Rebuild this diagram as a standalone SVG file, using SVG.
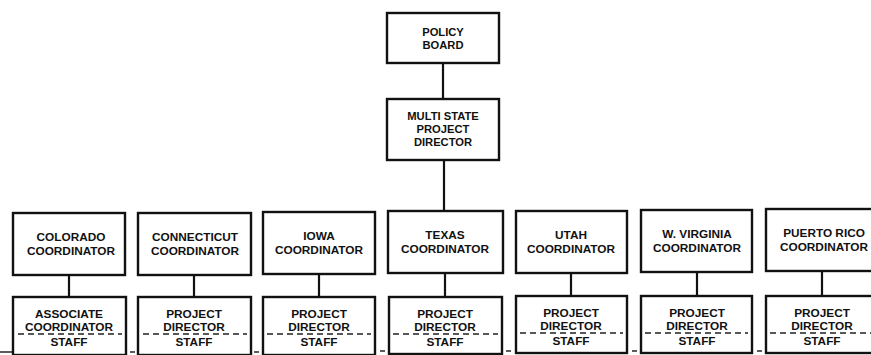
<svg xmlns="http://www.w3.org/2000/svg" width="871" height="355" viewBox="0 0 871 355">
  <style>
    .box { fill: #fff; stroke: #111; stroke-width: 2.4; }
    .link { stroke: #111; stroke-width: 2.2; fill: none; }
    .dash { stroke: #222; stroke-width: 1.6; stroke-dasharray: 6 4; fill: none; }
    .tick { stroke: #333; stroke-width: 1.6; }
    text { font-family: "Liberation Sans", Arial, sans-serif; font-weight: bold; font-size: 11.8px; fill: #111; text-anchor: middle; }
    .top text { font-size: 11.2px; }
  </style>
  <rect width="871" height="355" fill="#fff"/>

  <!-- connectors -->
  <g id="connectors">
    <line class="link" x1="443" y1="63" x2="443" y2="99"/>
    <line class="link" x1="444" y1="160" x2="444" y2="211"/>
    <line class="link" x1="69" y1="275" x2="69" y2="297"/>
    <line class="link" x1="194" y1="275" x2="194" y2="297"/>
    <line class="link" x1="319" y1="274" x2="319" y2="297"/>
    <line class="link" x1="445" y1="273" x2="445" y2="297"/>
    <line class="link" x1="571" y1="273" x2="571" y2="296"/>
    <line class="link" x1="697" y1="272" x2="697" y2="296"/>
    <line class="link" x1="822" y1="271" x2="822" y2="296"/>
    <!-- short strokes at the foot between staff boxes -->
    <line class="tick" x1="0" y1="352" x2="12" y2="352"/>
    <line class="tick" x1="18" y1="352" x2="110" y2="352" stroke="#777"/>
    <line class="tick" x1="130" y1="352" x2="135" y2="352"/>
    <line class="tick" x1="254" y1="352" x2="259" y2="352"/>
    <line class="tick" x1="380" y1="351" x2="385" y2="351"/>
    <line class="tick" x1="506" y1="351" x2="511" y2="351"/>
    <line class="tick" x1="632" y1="351" x2="637" y2="351"/>
    <line class="tick" x1="757" y1="351" x2="762" y2="351"/>
  </g>

  <g id="policy-board" class="top">
    <rect class="box" x="387" y="13" width="112" height="50"/>
    <text x="443" y="36">POLICY</text>
    <text x="443" y="49">BOARD</text>
  </g>

  <g id="multi-state-director" class="top">
    <rect class="box" x="387" y="99" width="112" height="61"/>
    <text x="443" y="120">MULTI STATE</text>
    <text x="443" y="133">PROJECT</text>
    <text x="443" y="146">DIRECTOR</text>
  </g>

  <g id="colorado-coordinator">
    <rect class="box" x="13" y="213" width="112" height="62"/>
    <text x="71" y="241">COLORADO</text>
    <text x="71" y="255">COORDINATOR</text>
  </g>
  <g id="connecticut-coordinator">
    <rect class="box" x="138" y="213" width="113" height="62"/>
    <text x="195" y="241">CONNECTICUT</text>
    <text x="195" y="255">COORDINATOR</text>
  </g>
  <g id="iowa-coordinator">
    <rect class="box" x="263" y="212" width="112" height="62"/>
    <text x="319" y="240">IOWA</text>
    <text x="319" y="254">COORDINATOR</text>
  </g>
  <g id="texas-coordinator">
    <rect class="box" x="388" y="211" width="115" height="62"/>
    <text x="445" y="239">TEXAS</text>
    <text x="445" y="253">COORDINATOR</text>
  </g>
  <g id="utah-coordinator">
    <rect class="box" x="516" y="211" width="111" height="62"/>
    <text x="571" y="239">UTAH</text>
    <text x="571" y="253">COORDINATOR</text>
  </g>
  <g id="west-virginia-coordinator">
    <rect class="box" x="641" y="210" width="111" height="62"/>
    <text x="697" y="238">W. VIRGINIA</text>
    <text x="697" y="252">COORDINATOR</text>
  </g>
  <g id="puerto-rico-coordinator">
    <rect class="box" x="766" y="209" width="112" height="62"/>
    <text x="824" y="237">PUERTO RICO</text>
    <text x="824" y="251">COORDINATOR</text>
  </g>

  <g id="colorado-staff">
    <rect class="box" x="13" y="297" width="113" height="58"/>
    <text x="69" y="318">ASSOCIATE</text>
    <text x="69" y="331">COORDINATOR</text>
    <line class="dash" x1="18" y1="334" x2="122" y2="334"/>
    <text x="69" y="346">STAFF</text>
  </g>
  <g id="connecticut-staff">
    <rect class="box" x="138" y="297" width="113" height="58"/>
    <text x="194" y="318">PROJECT</text>
    <text x="194" y="331">DIRECTOR</text>
    <line class="dash" x1="143" y1="334" x2="247" y2="334"/>
    <text x="194" y="346">STAFF</text>
  </g>
  <g id="iowa-staff">
    <rect class="box" x="263" y="297" width="112" height="58"/>
    <text x="319" y="318">PROJECT</text>
    <text x="319" y="331">DIRECTOR</text>
    <line class="dash" x1="267" y1="334" x2="371" y2="334"/>
    <text x="319" y="346">STAFF</text>
  </g>
  <g id="texas-staff">
    <rect class="box" x="389" y="297" width="113" height="57"/>
    <text x="445" y="318">PROJECT</text>
    <text x="445" y="331">DIRECTOR</text>
    <line class="dash" x1="393" y1="334" x2="498" y2="334"/>
    <text x="445" y="346">STAFF</text>
  </g>
  <g id="utah-staff">
    <rect class="box" x="516" y="296" width="111" height="57"/>
    <text x="571" y="317">PROJECT</text>
    <text x="571" y="330">DIRECTOR</text>
    <line class="dash" x1="520" y1="333" x2="623" y2="333"/>
    <text x="571" y="345">STAFF</text>
  </g>
  <g id="west-virginia-staff">
    <rect class="box" x="641" y="296" width="111" height="57"/>
    <text x="697" y="317">PROJECT</text>
    <text x="697" y="330">DIRECTOR</text>
    <line class="dash" x1="645" y1="333" x2="748" y2="333"/>
    <text x="697" y="345">STAFF</text>
  </g>
  <g id="puerto-rico-staff">
    <rect class="box" x="766" y="296" width="112" height="57"/>
    <text x="822" y="317">PROJECT</text>
    <text x="822" y="330">DIRECTOR</text>
    <line class="dash" x1="770" y1="333" x2="871" y2="333"/>
    <text x="822" y="345">STAFF</text>
  </g>
</svg>
